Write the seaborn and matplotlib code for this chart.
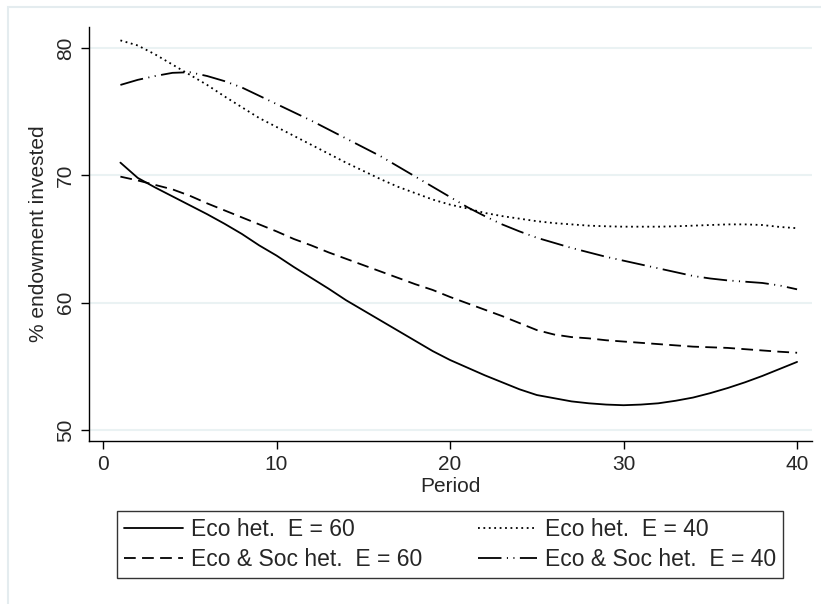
import numpy as np
import pandas as pd
import matplotlib
matplotlib.use("Agg")
import matplotlib.pyplot as plt
import seaborn as sns
from matplotlib.patches import Rectangle

periods = list(range(1, 41))

eco_het_60 = [71.0, 69.8, 69.05, 68.35, 67.65, 66.95, 66.2, 65.4, 64.5, 63.7,
              62.8, 61.95, 61.1, 60.2, 59.4, 58.6, 57.8, 57.0, 56.2, 55.5,
              54.9, 54.3, 53.75, 53.2, 52.75, 52.5, 52.25, 52.1, 52.0, 51.95,
              52.0, 52.1, 52.3, 52.55, 52.9, 53.3, 53.75, 54.25, 54.8, 55.35]

eco_het_40 = [80.6, 80.2, 79.5, 78.7, 77.9, 77.1, 76.2, 75.35, 74.5, 73.8,
              73.1, 72.4, 71.7, 71.0, 70.35, 69.7, 69.1, 68.6, 68.1, 67.7,
              67.4, 67.05, 66.8, 66.6, 66.4, 66.25, 66.15, 66.05, 66.0, 65.97,
              65.97, 65.97, 66.0, 66.05, 66.1, 66.15, 66.15, 66.1, 65.95, 65.85]

ecosoc_het_60 = [69.9, 69.6, 69.25, 68.9, 68.4, 67.8, 67.25, 66.7, 66.15, 65.6,
                 65.0, 64.5, 63.95, 63.45, 62.95, 62.45, 61.95, 61.45, 61.0, 60.45,
                 59.95, 59.45, 58.95, 58.4, 57.85, 57.5, 57.3, 57.2, 57.05, 56.95,
                 56.85, 56.75, 56.65, 56.55, 56.5, 56.45, 56.35, 56.25, 56.15, 56.07]

ecosoc_het_40 = [77.1, 77.5, 77.8, 78.05, 78.1, 77.8, 77.4, 76.9, 76.25, 75.6,
                 74.95, 74.3, 73.6, 72.9, 72.2, 71.5, 70.7, 69.9, 69.1, 68.3,
                 67.5, 66.8, 66.15, 65.6, 65.1, 64.7, 64.3, 63.95, 63.6, 63.3,
                 63.0, 62.7, 62.4, 62.1, 61.9, 61.75, 61.65, 61.55, 61.35, 61.05]

labels = ["Eco het.  E = 60", "Eco het.  E = 40",
          "Eco & Soc het.  E = 60", "Eco & Soc het.  E = 40"]
series = [eco_het_60, eco_het_40, ecosoc_het_60, ecosoc_het_40]

xticks = [0, 10, 20, 30, 40]
yticks = [50, 60, 70, 80]

df = pd.concat([pd.DataFrame({"Period": periods, "value": s, "group": l})
                for l, s in zip(labels, series)], ignore_index=True)

sns.set_theme(style="white")
plt.rcParams['font.family'] = ['Liberation Sans', 'DejaVu Sans']

fig = plt.figure(figsize=(8.21, 6.04), dpi=100)
# outer frame (graph region border)
fig.patches.append(Rectangle((8/821, -0.1), 1.2, (1-6.5/604)+0.1, transform=fig.transFigure,
                             fill=False, edgecolor="#e4ecef", linewidth=1.5, zorder=0))

ax = fig.add_axes([89/821, 1-441/604, (812-89)/821, (441-27)/604])

dashes = {
    labels[0]: "",
    labels[1]: (1.0, 2.0),
    labels[2]: (6.5, 3.5),
    labels[3]: (13, 3, 0.6, 3, 0.6, 3),
}
sns.lineplot(data=df, x="Period", y="value", hue="group", style="group",
             hue_order=labels, style_order=labels,
             palette=["black"] * 4, dashes=dashes, linewidth=1.3,
             ax=ax, legend=False)

FS = 15
ax.set_xlim(-0.81, 40.86)
ax.set_ylim(49.14, 81.65)
ax.set_xticks(xticks)
ax.set_yticks(yticks)
ax.set_xticklabels([str(v) for v in xticks], fontsize=FS)
ax.set_yticklabels([str(v) for v in yticks], fontsize=FS, rotation=90, va="center")
ax.tick_params(axis="both", direction="out", length=6, width=1.0, color="black",
               left=True, bottom=True, pad=4)
ax.grid(axis="y", color="#eaf2f3", linewidth=1.5)
ax.grid(axis="x", visible=False)
for s in ["top", "right"]:
    ax.spines[s].set_visible(False)
for s in ["left", "bottom"]:
    ax.spines[s].set_color("black")
    ax.spines[s].set_linewidth(1.0)
ax.set_xlabel("Period", fontsize=FS, labelpad=2)
ax.set_ylabel("% endowment invested", fontsize=FS, labelpad=6)

lines = ax.get_lines()[:4]
order = [0, 2, 1, 3]
handles = [lines[i] for i in order]
leg_labels = [labels[i] for i in order]
leg = fig.legend(handles, leg_labels, loc="upper left",
                 bbox_to_anchor=(117/821, 1-511/604), ncol=2,
                 fontsize=16.5, frameon=True, fancybox=False,
                 edgecolor="black", handlelength=2.6, handletextpad=0.35,
                 columnspacing=2.4, borderpad=0.3, labelspacing=0.3,
                 borderaxespad=0)
leg.get_frame().set_linewidth(1.0)

fig.savefig("out.png", dpi=100, facecolor="white")
